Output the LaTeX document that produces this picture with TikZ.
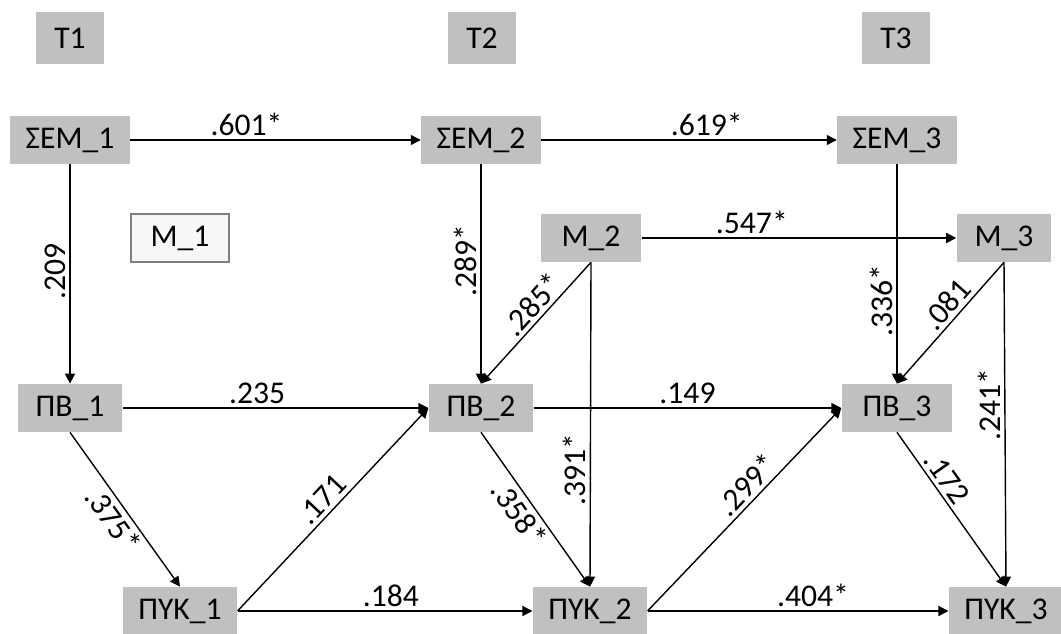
\documentclass[tikz,border=0pt]{standalone}
\usepackage{fontspec}
\setmainfont{Carlito}
\usepackage{tikz}
\usetikzlibrary{arrows.meta}

\definecolor{boxgray}{RGB}{192,192,192}
\definecolor{framegray}{RGB}{128,128,128}
\definecolor{paper}{RGB}{247,247,247}

\begin{document}
\begin{tikzpicture}[
    font=\fontsize{18}{21}\selectfont,
    varbox/.style={fill=boxgray, inner xsep=0.31cm, minimum height=0.96cm},
    timebox/.style={varbox, inner xsep=0.36cm, minimum height=1.04cm},
    emptybox/.style={varbox, inner xsep=0.4cm, fill=paper, draw=framegray, line width=1.1pt},
    arrow/.style={-{Triangle[length=2mm, width=2mm]}, line width=0.8pt},
    coef/.style={inner sep=2pt},
    vcoef/.style={coef, rotate=90, anchor=south},
]
\path[use as bounding box, clip] (0,0) rectangle (21.22,12.66);

% time points
\node[timebox] (t1) at (1.40,11.90) {T1};
\node[timebox] (t2) at (9.64,11.90) {T2};
\node[timebox] (t3) at (17.92,11.90) {T3};

% variables
\node[varbox] (sem1) at (1.40,9.86) {ΣΕΜ\_1};
\node[varbox] (sem2) at (9.62,9.86) {ΣΕΜ\_2};
\node[varbox] (sem3) at (17.94,9.86) {ΣΕΜ\_3};

\node[emptybox] (m1) at (3.60,7.90) {M\_1};
\node[varbox, inner xsep=0.42cm] (m2) at (11.82,7.90) {M\_2};
\node[varbox, inner xsep=0.36cm] (m3) at (20.08,7.90) {M\_3};

\node[varbox, inner xsep=0.36cm] (pb1) at (1.40,4.50) {ΠΒ\_1};
\node[varbox, inner xsep=0.36cm] (pb2) at (9.62,4.50) {ΠΒ\_2};
\node[varbox, inner xsep=0.42cm] (pb3) at (17.94,4.50) {ΠΒ\_3};

\node[varbox] (pyk1) at (3.60,0.44) {ΠΥΚ\_1};
\node[varbox] (pyk2) at (11.80,0.44) {ΠΥΚ\_2};
\node[varbox] (pyk3) at (20.12,0.44) {ΠΥΚ\_3};

% stability paths
\draw[arrow] (sem1) -- node[coef, pos=0.40, above] {.601*} (sem2);
\draw[arrow] (sem2) -- node[coef, pos=0.56, above] {.619*} (sem3);
\draw[arrow] (m2) -- node[coef, pos=0.35, above] {.547*} (m3);
\draw[arrow] (pb1) -- node[coef, pos=0.44, above] {.235} (pb2);
\draw[arrow] (pb2) -- node[coef, pos=0.50, above] {.149} (pb3);
\draw[arrow] (pyk1) -- node[coef, pos=0.52, above] {.184} (pyk2);
\draw[arrow] (pyk2) -- node[coef, pos=0.55, above] {.404*} (pyk3);

% vertical paths
\draw[arrow] (sem1) -- node[vcoef, pos=0.49] {.209} (pb1);
\draw[arrow] (sem2) -- node[vcoef, pos=0.44] {.289*} (pb2);
\draw[arrow] (sem3) -- node[vcoef, pos=0.62] {.336*} (pb3);
\draw[arrow] (m2.south) -- node[vcoef, pos=0.64] {.391*} (pyk2.north);
\draw[arrow] (m3.south) -- node[vcoef, pos=0.44] {.241*} (pyk3.north);

% diagonal paths
\draw[arrow] (m2.south) -- node[coef, pos=0.43, sloped, above] {.285*} (pb2.north);
\draw[arrow] (m3.south) -- node[coef, pos=0.43, sloped, above] {.081} (pb3.north);
\draw[arrow] (pb1.south) -- node[coef, pos=0.51, sloped, below] {.375*} (pyk1.north);
\draw[arrow] (pb2.south) -- node[coef, pos=0.47, sloped, below] {.358*} (pyk2.north);
\draw[arrow] (pb3.south) -- node[coef, pos=0.35, sloped, above] {.172} (pyk3.north);
\draw[arrow] (pyk1.east) -- node[coef, pos=0.50, sloped, above] {.171} (pb2.west);
\draw[arrow] (pyk2.east) -- node[coef, pos=0.57, sloped, above] {.299*} (pb3.west);

\end{tikzpicture}
\end{document}
